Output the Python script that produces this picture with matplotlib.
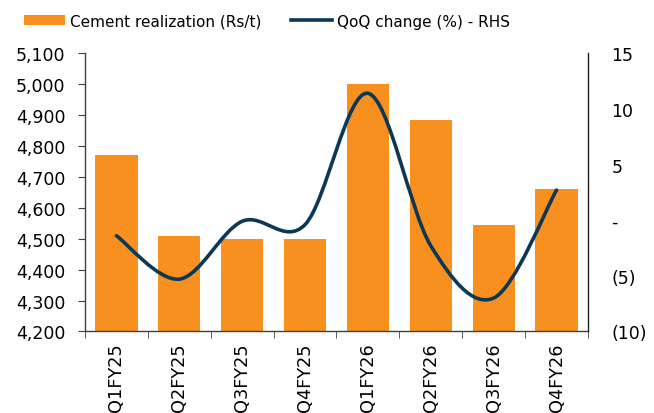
import matplotlib
matplotlib.use("Agg")
import matplotlib.pyplot as plt
import numpy as np
from matplotlib.path import Path
from matplotlib.patches import PathPatch, Patch
from matplotlib.lines import Line2D
from matplotlib.ticker import FuncFormatter, FixedLocator

categories = ["Q1FY25", "Q2FY25", "Q3FY25", "Q4FY25", "Q1FY26", "Q2FY26", "Q3FY26", "Q4FY26"]
realization = [4770, 4510, 4500, 4498, 5002, 4885, 4543, 4660]
qoq_change = [-1.4, -5.3, -0.1, -0.4, 11.4, -2.3, -7.0, 2.7]
left_ticks = [4200, 4300, 4400, 4500, 4600, 4700, 4800, 4900, 5000, 5100]
right_ticks = [-10, -5, 0, 5, 10, 15]

ORANGE = "#F7901E"
NAVY = "#0C3757"

plt.rcParams['font.family'] = ['DejaVu Sans']
fig = plt.figure(figsize=(6.54, 4.14), dpi=100)
ax = fig.add_axes([0.130, 0.197, 0.769, 0.672])
x = np.arange(len(categories))
ax.bar(x, realization, width=0.67, color=ORANGE, zorder=2)
ax.set_xlim(-0.5, len(categories) - 0.5)
ax.set_ylim(4200, 5100)
ax.set_yticks(left_ticks)
ax.yaxis.set_major_formatter(FuncFormatter(lambda v, p: f"{int(v):,}"))
ax.set_xticks(x)
ax.set_xticklabels(categories, rotation=90)
ax.xaxis.set_minor_locator(FixedLocator(np.arange(-0.5, len(categories), 1.0)))
ax.tick_params(axis='x', which='major', length=0, pad=8, labelsize=12.8, colors='#000000')
ax.tick_params(axis='x', which='minor', length=5, color='#404040')
ax.tick_params(axis='y', length=5, color='#404040', labelsize=12.5, pad=9)
ax.spines['top'].set_visible(False)
ax.spines['right'].set_visible(False)
for s in ['left', 'bottom']:
    ax.spines[s].set_color('#404040')
    ax.spines[s].set_linewidth(1.0)

ax2 = ax.twinx()
ax2.set_ylim(-10, 15)
ax2.set_yticks(right_ticks)
def rfmt(v, p):
    if v == 0:
        return "-"
    if v < 0:
        return f"({int(-v)})"
    return f"{int(v)}"
ax2.yaxis.set_major_formatter(FuncFormatter(rfmt))
ax2.tick_params(axis='y', length=0, labelsize=12.5, pad=17)
for s in ['top', 'left', 'bottom']:
    ax2.spines[s].set_visible(False)
ax2.spines['right'].set_color('#202020')
ax2.spines['right'].set_linewidth(1.0)

# Excel-style smoothed line (Catmull-Rom as cubic Bezier)
pts = np.column_stack([x, qoq_change]).astype(float)
n = len(pts)
verts = [tuple(pts[0])]
codes = [Path.MOVETO]
for i in range(n - 1):
    p0 = pts[i - 1] if i > 0 else pts[i]
    p1 = pts[i]
    p2 = pts[i + 1]
    p3 = pts[i + 2] if i + 2 < n else pts[i + 1]
    c1 = p1 + (p2 - p0) / 6.0
    c2 = p2 - (p3 - p1) / 6.0
    verts += [tuple(c1), tuple(c2), tuple(p2)]
    codes += [Path.CURVE4] * 3
path = Path(verts, codes)
ax2.add_patch(PathPatch(path, facecolor='none', edgecolor=NAVY, lw=2.6,
                        capstyle='round', joinstyle='round', zorder=3))

handles = [Patch(facecolor=ORANGE, edgecolor='none'),
           Line2D([0], [0], color=NAVY, lw=2.6)]
fig.legend(handles, ["Cement realization (Rs/t)", "QoQ change (%) - RHS"],
           loc='center left', bbox_to_anchor=(0.0367, 1 - 22 / 414), ncol=2, frameon=False,
           fontsize=11, handlelength=2.7, handleheight=0.65, handletextpad=0.3,
           columnspacing=1.95, borderaxespad=0.0, borderpad=0.0)

fig.savefig("out.png", dpi=100)
